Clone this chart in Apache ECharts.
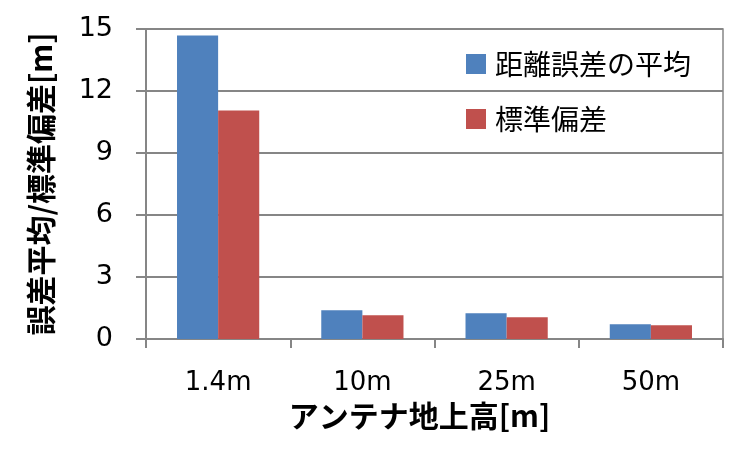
<!DOCTYPE html>
<html>
<head>
<meta charset="utf-8">
<script src="https://cdn.jsdelivr.net/npm/echarts@6/dist/echarts.min.js"></script>
<style>
html,body{margin:0;padding:0;background:#fff;}
#c{width:744px;height:453px;}
</style>
</head>
<body>
<div id="c"></div>
<script>
var categories = ['1.4m', '10m', '25m', '50m'];
var meanError = [14.68, 1.39, 1.25, 0.71];
var stdDev = [11.06, 1.15, 1.05, 0.665];
var seriesNames = ['距離誤差の平均', '標準偏差'];
var xName = 'アンテナ地上高[m]';
var yName = '誤差平均/標準偏差[m]';

var FONT = '"Noto Sans CJK JP", "DejaVu Sans", sans-serif';
var GRID_COLOR = '#868686';

var chart = echarts.init(document.getElementById('c'), null, {renderer: 'canvas'});
chart.setOption({
  animation: false,
  backgroundColor: '#fff',
  textStyle: {fontFamily: FONT},
  grid: {left: 146, right: 21, top: 29, bottom: 114, show: true, borderColor: GRID_COLOR, borderWidth: 1.5, containLabel: false},
  legend: {
    orient: 'vertical',
    left: 461,
    top: 45,
    itemWidth: 20,
    itemHeight: 20,
    itemGap: 27,
    icon: 'rect',
    textStyle: {fontFamily: FONT, fontSize: 28, color: '#000', padding: [0, 0, 0, 4]},
    data: seriesNames
  },
  xAxis: {
    type: 'category',
    data: categories,
    name: xName,
    nameLocation: 'middle',
    nameGap: 60,
    nameTextStyle: {fontFamily: FONT, fontSize: 30, fontWeight: 'bold', color: '#000', padding: [0, 30, 0, 0]},
    axisLine: {show: true, lineStyle: {color: GRID_COLOR, width: 2}},
    axisTick: {show: true, length: 9, alignWithLabel: false, lineStyle: {color: GRID_COLOR, width: 2}},
    axisLabel: {fontFamily: '"DejaVu Sans", sans-serif', fontSize: 26, color: '#000', margin: 31},
    splitLine: {show: false}
  },
  yAxis: {
    type: 'value',
    min: 0,
    max: 15,
    interval: 3,
    name: yName,
    nameLocation: 'middle',
    nameGap: 90,
    nameRotate: 90,
    nameTextStyle: {fontFamily: FONT, fontSize: 30, fontWeight: 'bold', color: '#000', padding: [0, 0, 0, 0]},
    axisLine: {show: true, lineStyle: {color: GRID_COLOR, width: 2}},
    axisTick: {show: true, length: 10, lineStyle: {color: GRID_COLOR, width: 2}},
    axisLabel: {fontFamily: '"DejaVu Sans", sans-serif', fontSize: 27, color: '#000', margin: 33},
    splitLine: {show: true, lineStyle: {color: GRID_COLOR, width: 2}}
  },
  series: [
    {name: seriesNames[0], type: 'bar', data: meanError, itemStyle: {color: '#4F81BD'}, barGap: '0%', barCategoryGap: '43%'},
    {name: seriesNames[1], type: 'bar', data: stdDev, itemStyle: {color: '#C0504D'}, barGap: '0%', barCategoryGap: '43%'}
  ]
});
</script>
</body>
</html>
